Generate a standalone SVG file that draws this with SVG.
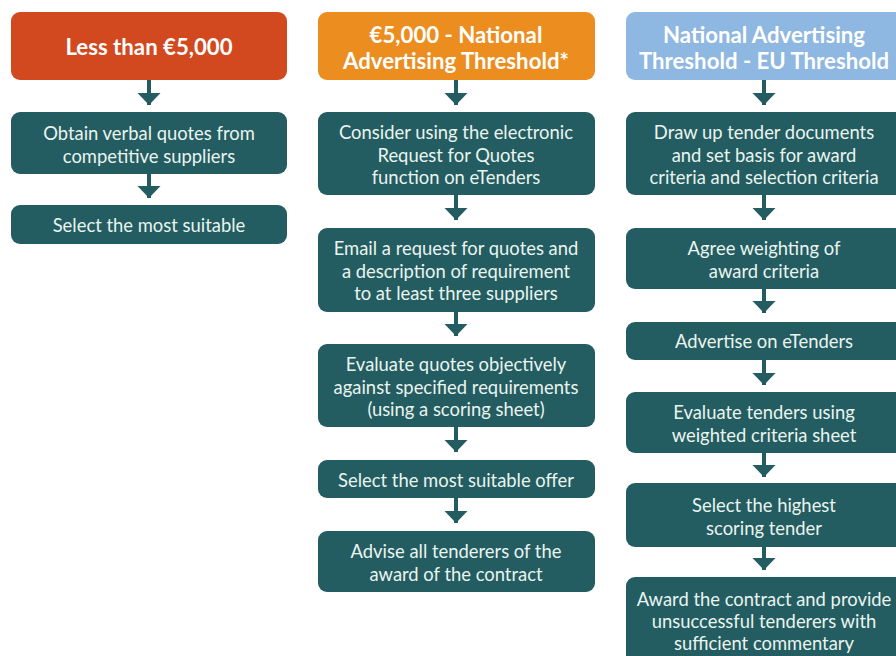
<svg xmlns="http://www.w3.org/2000/svg" width="896" height="656" viewBox="0 0 896 656">
<defs>
<style>
.h1{fill:#D2491F}
.h2{fill:#EC8D1F}
.h3{fill:#8EB7E1}
.box{fill:#235C61}
.ht{font-family:Lato,"Open Sans",sans-serif;font-weight:bold;font-size:22.2px;fill:#FFFFFF;text-anchor:middle}
.bt{font-family:Lato,"Open Sans",sans-serif;font-size:18.4px;fill:#EAF4EE;text-anchor:middle}
.conn line{stroke:#235C61;stroke-width:4;marker-end:url(#ah)}
</style>
<marker id="ah" markerUnits="userSpaceOnUse" markerWidth="13" markerHeight="24" refX="12" refY="11.5" orient="auto" viewBox="0 0 13 24">
<path d="M0,0 L12,11.5 L0,23 z" fill="#235C61"/>
</marker>
</defs>
<rect width="896" height="656" fill="#FFFFFF"/>

<g id="col1-header"><rect class="h1" x="11" y="12" width="276" height="68" rx="9"/><text class="ht" x="149" y="55">Less than €5,000</text></g>
<g id="col1-step1"><rect class="box" x="11" y="112" width="276" height="62" rx="9"/><text class="bt" x="149" y="140">Obtain verbal quotes from</text><text class="bt" x="149" y="163">competitive suppliers</text></g>
<g id="col1-step2"><rect class="box" x="11" y="205" width="276" height="39" rx="9"/><text class="bt" x="149" y="232">Select the most suitable</text></g>

<g id="col2-header"><rect class="h2" x="318" y="12" width="277" height="68" rx="9"/><text class="ht" x="456" y="43">€5,000 - National</text><text class="ht" x="456" y="69">Advertising Threshold*</text></g>
<g id="col2-step1"><rect class="box" x="318" y="112" width="277" height="83" rx="9"/><text class="bt" x="456" y="139">Consider using the electronic</text><text class="bt" x="456" y="162">Request for Quotes</text><text class="bt" x="456" y="184">function on eTenders</text></g>
<g id="col2-step2"><rect class="box" x="318" y="228" width="277" height="84" rx="9"/><text class="bt" x="456" y="255">Email a request for quotes and</text><text class="bt" x="456" y="278">a description of requirement</text><text class="bt" x="456" y="300">to at least three suppliers</text></g>
<g id="col2-step3"><rect class="box" x="318" y="344" width="277" height="83" rx="9"/><text class="bt" x="456" y="371">Evaluate quotes objectively</text><text class="bt" x="456" y="394">against specified requirements</text><text class="bt" x="456" y="416">(using a scoring sheet)</text></g>
<g id="col2-step4"><rect class="box" x="318" y="460" width="277" height="38" rx="9"/><text class="bt" x="456" y="487">Select the most suitable offer</text></g>
<g id="col2-step5"><rect class="box" x="318" y="531" width="277" height="61" rx="9"/><text class="bt" x="456" y="558">Advise all tenderers of the</text><text class="bt" x="456" y="581">award of the contract</text></g>

<g id="col3-header"><rect class="h3" x="626" y="12" width="278" height="68" rx="9"/><text class="ht" x="764" y="43">National Advertising</text><text class="ht" x="764" y="69">Threshold - EU Threshold</text></g>
<g id="col3-step1"><rect class="box" x="626" y="112" width="278" height="83" rx="9"/><text class="bt" x="764" y="139">Draw up tender documents</text><text class="bt" x="764" y="162">and set basis for award</text><text class="bt" x="764" y="184">criteria and selection criteria</text></g>
<g id="col3-step2"><rect class="box" x="626" y="228" width="278" height="61" rx="9"/><text class="bt" x="764" y="255">Agree weighting of</text><text class="bt" x="764" y="278">award criteria</text></g>
<g id="col3-step3"><rect class="box" x="626" y="322" width="278" height="38" rx="9"/><text class="bt" x="764" y="348">Advertise on eTenders</text></g>
<g id="col3-step4"><rect class="box" x="626" y="392" width="278" height="61" rx="9"/><text class="bt" x="764" y="419">Evaluate tenders using</text><text class="bt" x="764" y="442">weighted criteria sheet</text></g>
<g id="col3-step5"><rect class="box" x="626" y="483" width="278" height="64" rx="9"/><text class="bt" x="764" y="512">Select the highest</text><text class="bt" x="764" y="535">scoring tender</text></g>
<g id="col3-step6"><rect class="box" x="626" y="577" width="278" height="90" rx="9"/><text class="bt" x="764" y="606">Award the contract and provide</text><text class="bt" x="764" y="628">unsuccessful tenderers with</text><text class="bt" x="764" y="650">sufficient commentary</text></g>

<g id="connectors" class="conn">
<line x1="149" y1="80" x2="149" y2="105"/>
<line x1="149" y1="174" x2="149" y2="198"/>
<line x1="456" y1="80" x2="456" y2="105"/>
<line x1="456" y1="195" x2="456" y2="220"/>
<line x1="456" y1="312" x2="456" y2="336"/>
<line x1="456" y1="427" x2="456" y2="452"/>
<line x1="456" y1="498" x2="456" y2="523"/>
<line x1="764" y1="80" x2="764" y2="105"/>
<line x1="764" y1="195" x2="764" y2="220"/>
<line x1="764" y1="289" x2="764" y2="313"/>
<line x1="764" y1="360" x2="764" y2="385"/>
<line x1="764" y1="453" x2="764" y2="477"/>
<line x1="764" y1="547" x2="764" y2="570"/>
</g>
</svg>
